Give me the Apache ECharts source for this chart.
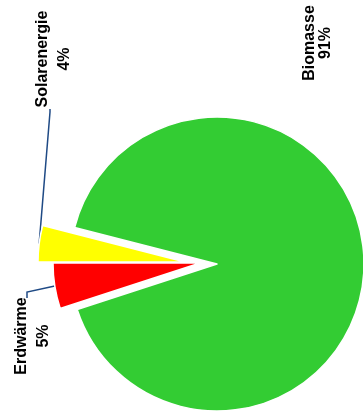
<!DOCTYPE html>
<html><head><meta charset="utf-8">
<script src="https://cdn.jsdelivr.net/npm/echarts@6/dist/echarts.min.js"></script>
<style>html,body{margin:0;padding:0;background:#fff}#c{width:363px;height:416px}</style>
</head><body><div id="c"></div>
<script>
// data
const categories = ['Solarenergie', 'Biomasse', 'Erdwärme'];
const shares = [4, 91, 5];
const colors = ['#ffff00', '#33cc33', '#ff0000'];

// layout (exploded pie: one series per slice, each with its own centre)
const sliceCenters = [[185, 262], [217, 264], [200, 263]];
const labelCenters = [[54, 59], [318, 43], [33, 336]];
const labelLineHeights = [22, 16, 22];
const leaderBends = [[[50, 112], [50, 109]], null, [[27, 292], [27, 298]]];

const chart = echarts.init(document.getElementById('c'), null, { renderer: 'canvas' });

const series = categories.map((cat, k) => ({
  type: 'pie',
  center: sliceCenters[k],
  radius: 147,
  startAngle: 180,
  clockwise: true,
  silent: true,
  animation: false,
  avoidLabelOverlap: false,
  emphasis: { disabled: true },
  data: categories.map((n, i) => ({
    name: n,
    value: shares[i],
    itemStyle: {
      color: i === k ? colors[i] : 'rgba(0,0,0,0)',
      borderColor: i === k ? '#ffffff' : 'rgba(0,0,0,0)',
      borderWidth: 1.5
    },
    label: { show: i === k },
    labelLine: { show: i === k && leaderBends[i] !== null }
  })),
  label: {
    formatter: '{b}\n{c}%',
    rotate: 90,
    fontSize: 16,
    fontWeight: 'bold',
    color: '#000',
    fontFamily: 'Liberation Sans',
    lineHeight: labelLineHeights[k]
  },
  labelLine: { lineStyle: { color: '#1f4a85', width: 1.5 } },
  labelLayout: function (p) {
    if (p.dataIndex !== k) return {};
    const out = {
      x: labelCenters[k][0],
      y: labelCenters[k][1],
      align: 'center',
      verticalAlign: 'middle'
    };
    if (leaderBends[k] && p.labelLinePoints) {
      out.labelLinePoints = [p.labelLinePoints[0], leaderBends[k][0], leaderBends[k][1]];
    }
    return out;
  }
}));

chart.setOption({ animation: false, series: series });
</script>
</body></html>
